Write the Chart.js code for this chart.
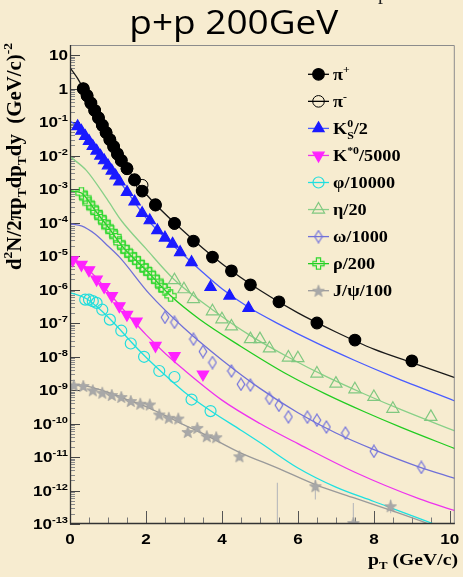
<!DOCTYPE html>
<html><head><meta charset="utf-8">
<script src="https://cdn.jsdelivr.net/npm/chart.js@4/dist/chart.umd.min.js"></script>
<style>html,body{margin:0;padding:0;background:#f7ecd0;}canvas{display:block}</style>
</head><body><canvas id="c" width="463" height="577"></canvas>
<script>
// ---------------- DATA ----------------
const titleText = 'p+p 200GeV';
const xTitle = 'p_{T} (GeV/c)';
const yTitle = 'd^{2}N/2\u03C0p_{T}dp_{T}dy  (GeV/c)^{-2}';
const xTickValues = [0, 2, 4, 6, 8, 10];
const xTickLabels = ['0', '2', '4', '6', '8', '10'];
const yTickValues = [1e1,1e0,1e-1,1e-2,1e-3,1e-4,1e-5,1e-6,1e-7,1e-8,1e-9,1e-10,1e-11,1e-12,1e-13];
const yTickLabels = ['10','1','10^{-1}','10^{-2}','10^{-3}','10^{-4}','10^{-5}','10^{-6}','10^{-7}','10^{-8}','10^{-9}','10^{-10}','10^{-11}','10^{-12}','10^{-13}'];
const legendLabels = ['\u03C0^{+}','\u03C0^{-}','K^{0}_{S}/2','K^{*0}/5000','\u03C6/10000','\u03B7/20','\u03C9/1000','\u03C1/200','J/\u03C8/100'];

const piPlusPt    = [0.35,0.45,0.55,0.65,0.75,0.85,0.95,1.05,1.15,1.25,1.35,1.5,1.7,1.9,2.25,2.75,3.25,3.75,4.25,4.75,5.5,6.5,7.5,9.0];
const piPlusYield = [1.0,0.62,0.37,0.224,0.135,8.1e-2,4.9e-2,3.0e-2,1.86e-2,1.12e-2,7.2e-3,4.1e-3,1.9e-3,8.7e-4,3.4e-4,9.5e-5,2.8e-5,9.3e-6,3.6e-6,1.38e-6,4.3e-7,1.0e-7,3.1e-8,7.4e-9];
const piMinusPt    = [0.35,0.45,0.55,0.65,0.75,0.85,0.95,1.05,1.15,1.25,1.35,1.5,1.7,1.9,2.25,2.75];
const piMinusYield = [0.97,0.60,0.36,0.218,0.132,0.079,0.048,0.029,0.018,0.0109,0.0070,0.0040,0.00185,0.0013,3.3e-4,9.3e-5];
const k0sPt    = [0.2,0.3,0.4,0.5,0.6,0.7,0.8,0.9,1.0,1.1,1.2,1.3,1.5,1.7,1.9,2.1,2.3,2.5,2.7,2.9,3.2,3.7,4.2,4.7];
const k0sYield = [7.4e-2,5.4e-2,3.8e-2,2.7e-2,1.9e-2,1.38e-2,9.8e-3,7.1e-3,5.0e-3,3.5e-3,2.5e-3,1.66e-3,8.1e-4,4.2e-4,1.9e-4,1.15e-4,5.8e-5,3.5e-5,2.3e-5,1.29e-5,6.5e-6,1.17e-6,6.5e-7,2.8e-7];
const kstarPt    = [0.07,0.3,0.5,0.7,0.9,1.1,1.3,1.5,1.75,2.25,2.75,3.5];
const kstarYield = [7.6e-6,5.5e-6,3.8e-6,2.0e-6,1.2e-6,6.5e-7,3.2e-7,1.78e-7,1.12e-7,2.1e-8,1.05e-8,2.95e-9];
const phiPt    = [0.4,0.5,0.6,0.7,0.85,1.05,1.35,1.6,1.95,2.35,2.75,3.2,3.7];
const phiYield = [5.0e-7,5.0e-7,4.5e-7,4.0e-7,2.5e-7,1.26e-7,5.9e-8,2.45e-8,9.8e-9,3.7e-9,2.45e-9,5.2e-10,2.35e-10];
const etaPt    = [2.75,3.0,3.25,3.75,4.0,4.25,4.75,5.0,5.25,5.75,6.0,6.5,7.0,7.5,8.0,8.5,9.5];
const etaYield = [1.9e-6,1.02e-6,5.2e-7,2.24e-7,1.29e-7,7.9e-8,3.3e-8,3.3e-8,1.74e-8,9.3e-9,8.9e-9,3.1e-9,1.55e-9,1.05e-9,6.2e-10,2.75e-10,1.58e-10];
const omegaPt    = [2.5,2.75,3.25,3.5,3.75,4.25,4.5,4.75,5.25,5.5,5.75,6.25,6.5,6.75,7.25,8.0,9.25];
const omegaYield = [1.48e-7,1.05e-7,3.3e-8,1.41e-8,6.6e-9,3.7e-9,1.48e-9,1.41e-9,5.6e-10,3.5e-10,1.58e-10,1.55e-10,1.26e-10,7.9e-11,5.2e-11,1.48e-11,4.9e-12];
const rhoPt    = [0.3,0.4,0.5,0.6,0.7,0.8,0.9,1.0,1.1,1.2,1.3,1.4,1.5,1.6,1.7,1.8,1.9,2.0,2.1,2.2,2.3,2.4,2.5,2.65];
const rhoYield = [7.6e-4,5.4e-4,3.8e-4,2.75e-4,2.0e-4,1.41e-4,1.02e-4,7.4e-5,5.4e-5,3.8e-5,2.5e-5,1.82e-5,1.41e-5,1.07e-5,8.3e-6,6.5e-6,5.0e-6,4.0e-6,3.1e-6,2.35e-6,1.78e-6,1.26e-6,1.0e-6,6.5e-7];
const jpsiPt    = [0.1,0.35,0.6,0.85,1.1,1.35,1.6,1.85,2.1,2.35,2.6,2.85,3.1,3.35,3.6,3.85,4.46,5.46,6.46,7.46,8.44];
const jpsiYield = [1.38e-9,1.32e-9,9.8e-10,8.3e-10,7.1e-10,6.2e-10,4.7e-10,3.9e-10,3.7e-10,1.86e-10,1.48e-10,1.41e-10,5.6e-11,7.4e-11,4.2e-11,3.9e-11,1.05e-11,5.0e-14,1.35e-12,1.07e-13,3.4e-13];
const jpsiErrLo = [null,null,null,null,null,null,null,null,null,null,null,null,null,null,null,null,7.9e-12,1e-14,5.4e-13,1e-14,2.1e-13];
const jpsiErrHi = [null,null,null,null,null,null,null,null,null,null,null,null,null,null,null,null,1.41e-11,1.7e-12,2.1e-12,4.2e-13,5.4e-13];

// fitted curves (read at a few pT values)
const piFitPt  = [0,0.2,0.35,1.0,1.5,2.0,3.0,4.0,5.0,6.0,7.0,8.0,9.0,10.13];
const piFitY   = [4.2,2.0,1.0,3.5e-2,4.2e-3,7.1e-4,5.4e-5,5.9e-6,9.5e-7,2.0e-7,5.4e-8,1.66e-8,6.6e-9,2.35e-9];
const kFitPt   = [0,0.2,0.6,1.0,1.5,2.0,2.5,3.0,3.5,4.0,4.7,5.5,6.5,7.5,8.5,10.13];
const kFitY    = [0.105,7.6e-2,1.9e-2,4.9e-3,8.5e-4,1.38e-4,3.5e-5,1.05e-5,3.2e-6,1.05e-6,2.95e-7,9.3e-8,2.5e-8,7.6e-9,2.5e-9,4.7e-10];
const etaFitPt = [0,0.43,1.0,1.35,2.0,2.74,3.75,4.75,5.75,6.75,7.75,8.75,10.13];
const etaFitY  = [9.3e-3,3.6e-3,4.5e-4,1.15e-4,1.66e-5,2.0e-6,2.5e-7,4.2e-8,9.5e-9,2.5e-9,7.6e-10,2.5e-10,6.0e-11];
const rhoFitPt = [0,0.3,0.7,1.0,1.4,2.0,2.65,3.4,4.5,5.75,6.75,7.75,8.75,10.13];
const rhoFitY  = [8.9e-4,7.6e-4,2.0e-4,7.4e-5,1.82e-5,3.8e-6,6.5e-7,1.32e-7,2.0e-8,2.8e-9,7.4e-10,2.24e-10,7.4e-11,1.78e-11];
const omegaFitPt = [0,0.3,0.65,1.0,1.31,2.09,3.0,4.0,5.0,6.0,7.0,8.0,9.2,10.13];
const omegaFitY  = [9.1e-5,7.9e-5,4.6e-5,2.0e-5,9.1e-6,7.4e-7,7.1e-8,7.9e-9,1.12e-9,2.1e-10,5.2e-11,1.66e-11,5.0e-12,2.3e-12];
const kstarFitPt = [0,0.3,0.7,1.1,1.5,2.0,2.5,3.0,4.0,5.0,6.0,7.5,9.2,10.13];
const kstarFitY  = [8.9e-6,6.0e-6,2.2e-6,6.3e-7,1.9e-7,4.5e-8,1.26e-8,4.0e-9,5.0e-10,1.0e-10,2.5e-11,3.5e-12,5.6e-13,2.5e-13];
const phiFitPt = [0,0.4,0.8,1.2,1.6,2.0,2.5,3.0,3.7,4.5,5.0,6.0,7.0,8.0,9.58,10.13];
const phiFitY  = [8.1e-7,5.6e-7,2.5e-7,8.9e-8,2.8e-8,9.5e-9,2.8e-9,8.9e-10,2.4e-10,6.3e-11,2.7e-11,4.7e-12,1.26e-12,4.7e-13,1.0e-13,5.6e-14];
const jpsiFitPt = [0,0.5,1.0,1.5,2.0,2.5,3.0,3.5,4.46,5.5,6.46,7.5,8.47,9.45,10.13];
const jpsiFitY  = [1.48e-9,1.26e-9,8.5e-10,5.2e-10,3.2e-10,1.74e-10,9.1e-11,5.0e-11,1.38e-11,4.5e-12,1.5e-12,5.9e-13,2.5e-13,1.0e-13,5.0e-14];

// ---------------- STYLE ----------------
const BG = '#f7ecd0';
const C = {pi:'#000000', k0:'#1a1aff', kLine:'#4a5cff', kst:'#ff22ff', kstLine:'#ee33ee',
  phi:'#22dddd', phiLine:'#1fe0e0', eta:'#80c880', etaLine:'#88d088', om:'#7373dd', omLine:'#7070d8',
  rho:'#2ed82e', rhoLine:'#22cc22', jp:'#a8a8a8', jpLine:'#9a9a9a'};
const HS = 1.14; // horizontal stretch of the chart's text

function mk(w,h,draw){const c=document.createElement('canvas');c.width=w;c.height=h;draw(c.getContext('2d'));return c;}
const diamondImg = mk(10,14,g=>{g.strokeStyle=C.om;g.lineWidth=1.2;g.beginPath();g.moveTo(5,1);g.lineTo(8.8,7);g.lineTo(5,13);g.lineTo(1.2,7);g.closePath();g.stroke();});
const crossImg = mk(13,13,g=>{const c=6.5,a=2.1,r=5.6;g.strokeStyle=C.rho;g.lineWidth=1.2;g.beginPath();
  const p=[[c-a,c-r],[c+a,c-r],[c+a,c-a],[c+r,c-a],[c+r,c+a],[c+a,c+a],[c+a,c+r],[c-a,c+r],[c-a,c+a],[c-r,c+a],[c-r,c-a],[c-a,c-a]];
  p.forEach((q,i)=>i?g.lineTo(q[0],q[1]):g.moveTo(q[0],q[1]));g.closePath();g.stroke();});
const starImg = mk(14,14,g=>{const c=7;g.fillStyle=C.jp;g.strokeStyle='#999';g.lineWidth=0.6;g.beginPath();
  for(let i=0;i<10;i++){const r=i%2?2.7:6.3;const a=-Math.PI/2+i*Math.PI/5;const X=c+r*Math.cos(a),Y=c+0.6+r*Math.sin(a);i?g.lineTo(X,Y):g.moveTo(X,Y);}g.closePath();g.fill();g.stroke();});

function pts(xs,ys){return xs.map((x,i)=>({x:x,y:ys[i]}));}
function markers(label,xs,ys,o){return Object.assign({label:label,data:pts(xs,ys),showLine:false,order:1,pointBorderWidth:1.2,pointHoverRadius:0},o);}
function fit(xs,ys,color){return {label:'',data:pts(xs,ys),showLine:true,borderColor:color,borderWidth:1.3,pointRadius:0,fill:false,cubicInterpolationMode:'monotone',order:10};}

const markerSets = [
  markers(legendLabels[0],piPlusPt,piPlusYield,{pointStyle:'circle',pointRadius:5.8,pointBackgroundColor:C.pi,pointBorderColor:C.pi,lc:C.pi}),
  markers(legendLabels[1],piMinusPt,piMinusYield,{pointStyle:'circle',pointRadius:5.8,pointBackgroundColor:'rgba(0,0,0,0)',pointBorderColor:C.pi,pointBorderWidth:1,lc:C.pi}),
  markers(legendLabels[2],k0sPt,k0sYield,{pointStyle:'triangle',pointRadius:6.5,pointBackgroundColor:C.k0,pointBorderColor:C.k0,lc:C.kLine}),
  markers(legendLabels[3],kstarPt,kstarYield,{pointStyle:'triangle',pointRotation:180,pointRadius:6.5,pointBackgroundColor:C.kst,pointBorderColor:C.kst,lc:C.kstLine}),
  markers(legendLabels[4],phiPt,phiYield,{pointStyle:'circle',pointRadius:5.5,pointBackgroundColor:'rgba(0,0,0,0)',pointBorderColor:C.phi,lc:C.phiLine}),
  markers(legendLabels[5],etaPt,etaYield,{pointStyle:'triangle',pointRadius:7,pointBackgroundColor:'rgba(0,0,0,0)',pointBorderColor:C.eta,lc:C.etaLine}),
  markers(legendLabels[6],omegaPt,omegaYield,{pointStyle:diamondImg,pointRadius:6,lc:C.omLine}),
  markers(legendLabels[7],rhoPt,rhoYield,{pointStyle:crossImg,pointRadius:6,lc:C.rhoLine}),
  markers(legendLabels[8],jpsiPt,jpsiYield,{pointStyle:starImg,pointRadius:6,lc:C.jpLine,errLo:jpsiErrLo,errHi:jpsiErrHi,errColor:'#bdbdbd'})
];
const fitSets = [
  fit(piFitPt,piFitY,'#1a1a1a'), fit(kFitPt,kFitY,C.kLine), fit(etaFitPt,etaFitY,C.etaLine), fit(rhoFitPt,rhoFitY,C.rhoLine),
  fit(omegaFitPt,omegaFitY,C.omLine), fit(kstarFitPt,kstarFitY,C.kstLine), fit(phiFitPt,phiFitY,C.phiLine), fit(jpsiFitPt,jpsiFitY,C.jpLine)
];

// ---------------- rich text helpers ----------------
function parseRich(s){const segs=[];let i=0,buf='';while(i<s.length){const c=s[i];
  if((c==='^'||c==='_')&&s[i+1]==='{'){if(buf){segs.push({t:buf,k:'n'});buf='';}const j=s.indexOf('}',i);segs.push({t:s.slice(i+2,j),k:c==='^'?'sup':'sub'});i=j+1;}
  else{buf+=c;i++;}}if(buf)segs.push({t:buf,k:'n'});return segs;}
function richLayout(ctx,s,size,fam,wt){const segs=parseRich(s);const out=[];let x=0;
  for(let i=0;i<segs.length;i++){const g=segs[i];
    if(g.k==='n'){ctx.font=wt+' '+size+'px '+fam;const w=ctx.measureText(g.t).width;out.push({t:g.t,x:x,dy:0,f:ctx.font});x+=w;}
    else{const fs=size*0.65;ctx.font=wt+' '+fs+'px '+fam;const dy=g.k==='sup'?-size*0.42:size*0.25;let w=ctx.measureText(g.t).width;
      out.push({t:g.t,x:x,dy:dy,f:ctx.font});
      if(g.k==='sup'&&segs[i+1]&&segs[i+1].k==='sub'){const h=segs[i+1];const w2=ctx.measureText(h.t).width;out.push({t:h.t,x:x,dy:size*0.3,f:ctx.font});w=Math.max(w,w2);i++;}
      x+=w;}}
  return {items:out,width:x};}
function drawRich(ctx,s,x,y,o){ctx.save();const L=richLayout(ctx,s,o.size,o.fam,o.wt||'bold');
  const hs=o.fitWidth?o.fitWidth/L.width:(o.hs||1);
  ctx.translate(x,y);if(o.rot)ctx.rotate(o.rot);ctx.scale(hs,o.vs||1);
  const x0=o.align==='right'?-L.width:(o.align==='center'?-L.width/2:0);
  ctx.fillStyle=o.color||'#000';ctx.textBaseline='alphabetic';ctx.textAlign='left';
  L.items.forEach(it=>{ctx.font=it.f;ctx.fillText(it.t,x0+it.x,it.dy);});ctx.restore();}

function drawMarker(ctx,ds,x,y){const st=ds.pointStyle;
  if(st instanceof HTMLCanvasElement){ctx.drawImage(st,x-st.width/2,y-st.height/2);return;}
  const r=ds.pointRadius;ctx.save();ctx.lineWidth=ds.pointBorderWidth;ctx.strokeStyle=ds.pointBorderColor;ctx.fillStyle=ds.pointBackgroundColor;ctx.beginPath();
  if(st==='circle'){ctx.arc(x,y,r,0,Math.PI*2);}
  else{let rad=(ds.pointRotation||0)*Math.PI/180;for(let k=0;k<3;k++){const X=x+Math.sin(rad)*r,Y=y-Math.cos(rad)*r;k?ctx.lineTo(X,Y):ctx.moveTo(X,Y);rad+=2*Math.PI/3;}ctx.closePath();}
  ctx.fill();ctx.stroke();ctx.restore();}

const decor = {
  id:'decor',
  beforeDraw(chart){const ctx=chart.ctx;ctx.save();ctx.fillStyle=BG;ctx.fillRect(0,0,chart.width,chart.height);ctx.restore();},
  beforeDatasetsDraw(chart){const ctx=chart.ctx,a=chart.chartArea,xs=chart.scales.x,ys=chart.scales.y;
    ctx.save();ctx.lineWidth=1;
    for(let i=0;i<yTickValues.length;i++){const v=yTickValues[i];const py=Math.round(ys.getPixelForValue(v))+0.5;
      ctx.strokeStyle='#444';ctx.beginPath();ctx.moveTo(a.left,py);ctx.lineTo(a.left+10,py);ctx.stroke();
      for(let k=2;k<=9;k++){const mv=v*k;if(mv>ys.max)continue;const my=Math.round(ys.getPixelForValue(mv))+0.5;
        ctx.strokeStyle='#8a8a8a';ctx.beginPath();ctx.moveTo(a.left,my);ctx.lineTo(a.left+5,my);ctx.stroke();}}
    for(let t=0;t<=xs.max+1e-9;t+=0.5){const px=Math.round(xs.getPixelForValue(t))+0.5;const major=xTickValues.indexOf(t)>=0;
      ctx.strokeStyle=major?'#555':'#777';ctx.beginPath();ctx.moveTo(px,a.bottom);ctx.lineTo(px,a.bottom-(major?13:6.5));ctx.stroke();}
    ctx.beginPath();ctx.rect(a.left,a.top,a.right-a.left,a.bottom-a.top);ctx.clip();
    chart.data.datasets.forEach(ds=>{if(!ds.errLo)return;ctx.strokeStyle=ds.errColor;ctx.lineWidth=1.2;
      ds.data.forEach((p,i)=>{if(ds.errLo[i]==null)return;const px=xs.getPixelForValue(p.x);
        ctx.beginPath();ctx.moveTo(px,ys.getPixelForValue(ds.errHi[i]));ctx.lineTo(px,ys.getPixelForValue(ds.errLo[i]));ctx.stroke();});});
    ctx.restore();},
  afterDraw(chart){const ctx=chart.ctx,a=chart.chartArea,xs=chart.scales.x,ys=chart.scales.y;
    ctx.save();
    ctx.lineWidth=1;ctx.strokeStyle='#8c8c8c';ctx.beginPath();ctx.moveTo(a.left,a.top+0.5);ctx.lineTo(a.right-0.5,a.top+0.5);ctx.lineTo(a.right-0.5,a.bottom);ctx.stroke();
    ctx.lineWidth=1.3;ctx.strokeStyle='#333';ctx.beginPath();ctx.moveTo(a.left+0.5,a.top);ctx.lineTo(a.left+0.5,a.bottom-0.5);ctx.lineTo(a.right,a.bottom-0.5);ctx.stroke();
    const tf='"Liberation Sans", Arial, sans-serif';
    yTickLabels.forEach((lab,i)=>{const py=ys.getPixelForValue(yTickValues[i]);drawRich(ctx,lab,68,py+5.3,{size:15,fam:tf,hs:HS,align:'right'});});
    xTickLabels.forEach((lab,i)=>{const px=xs.getPixelForValue(xTickValues[i]);drawRich(ctx,lab,px,543.5,{size:15,fam:tf,hs:HS,align:'center'});});
    const sf='"Liberation Serif", "Times New Roman", serif';
    drawRich(ctx,xTitle,458,565,{size:17.5,fam:sf,fitWidth:90,align:'right'});
    drawRich(ctx,yTitle,21,43,{size:18.5,fam:sf,fitWidth:227,vs:1.1,rot:-Math.PI/2,align:'right'});
    markerSets.forEach((ds,i)=>{const y=74.3+i*27.05;
      ctx.strokeStyle=ds.lc;ctx.lineWidth=1.3;ctx.beginPath();ctx.moveTo(308,y);ctx.lineTo(329,y);ctx.stroke();
      drawMarker(ctx,ds,318.5,y);
      drawRich(ctx,legendLabels[i],333,y+5.5,{size:16,fam:sf,hs:HS,align:'left'});});
    drawRich(ctx,titleText,233.8,34,{size:32,fam:'"Open Sans", "Noto Sans", sans-serif',wt:'normal',fitWidth:209,align:'center',color:'#000'});
    drawRich(ctx,'p',383,-1,{size:20,fam:sf,wt:'normal',align:'center',color:'#222'});
    ctx.restore();}
};

new Chart(document.getElementById('c'),{
  type:'line',
  data:{datasets:markerSets.concat(fitSets)},
  options:{responsive:false,animation:false,devicePixelRatio:1,
    layout:{padding:{left:70,top:45,right:5,bottom:53}},
    scales:{x:{type:'linear',min:0,max:10.13,display:false},
            y:{type:'logarithmic',min:1e-13,max:19.95,display:false}},
    plugins:{legend:{display:false},tooltip:{enabled:false}},
    events:[]},
  plugins:[decor]
});
</script></body></html>
